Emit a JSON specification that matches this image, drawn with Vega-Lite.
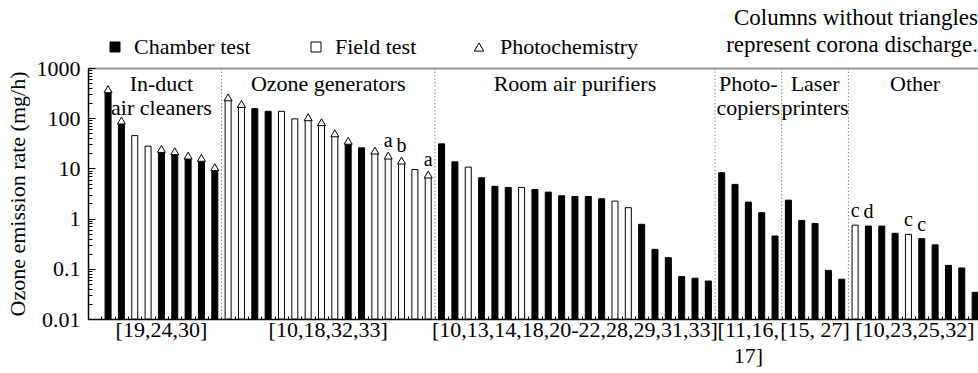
{
  "$schema": "https://vega.github.io/schema/vega-lite/v6.json",
  "width": 890,
  "height": 251,
  "autosize": {"type": "none"},
  "padding": {"left": 88, "top": 68, "right": 0, "bottom": 54},
  "background": "white",
  "config": {
    "font": "Liberation Serif",
    "view": {"stroke": null},
    "text": {"font": "Liberation Serif", "color": "black"},
    "legend": {"labelFont": "Liberation Serif", "labelFontSize": 22, "labelColor": "black", "padding": 0}
  },
  "title": {
    "text": ["Columns without triangles", "represent corona discharge."],
    "anchor": "end",
    "font": "Liberation Serif",
    "fontSize": 23,
    "fontWeight": "normal",
    "color": "black",
    "offset": -21,
    "lineHeight": 27
  },
  "datasets": {
    "bars": [
      {"n": 1, "group": "induct", "rate": 340, "test": "Chamber test", "mechanism": "Photochemistry"},
      {"n": 2, "group": "induct", "rate": 81, "test": "Chamber test", "mechanism": "Photochemistry"},
      {"n": 3, "group": "induct", "rate": 45, "test": "Field test", "mechanism": "Corona discharge"},
      {"n": 4, "group": "induct", "rate": 27.7, "test": "Field test", "mechanism": "Corona discharge"},
      {"n": 5, "group": "induct", "rate": 22, "test": "Chamber test", "mechanism": "Photochemistry"},
      {"n": 6, "group": "induct", "rate": 19.8, "test": "Chamber test", "mechanism": "Photochemistry"},
      {"n": 7, "group": "induct", "rate": 16.2, "test": "Chamber test", "mechanism": "Photochemistry"},
      {"n": 8, "group": "induct", "rate": 14.6, "test": "Chamber test", "mechanism": "Photochemistry"},
      {"n": 9, "group": "induct", "rate": 9.5, "test": "Chamber test", "mechanism": "Photochemistry"},
      {"n": 10, "group": "ozone", "rate": 234, "test": "Field test", "mechanism": "Photochemistry"},
      {"n": 11, "group": "ozone", "rate": 173, "test": "Field test", "mechanism": "Photochemistry"},
      {"n": 12, "group": "ozone", "rate": 155, "test": "Chamber test", "mechanism": "Corona discharge"},
      {"n": 13, "group": "ozone", "rate": 137, "test": "Chamber test", "mechanism": "Corona discharge"},
      {"n": 14, "group": "ozone", "rate": 137, "test": "Field test", "mechanism": "Corona discharge"},
      {"n": 15, "group": "ozone", "rate": 97, "test": "Field test", "mechanism": "Corona discharge"},
      {"n": 16, "group": "ozone", "rate": 94, "test": "Field test", "mechanism": "Photochemistry"},
      {"n": 17, "group": "ozone", "rate": 75, "test": "Field test", "mechanism": "Photochemistry"},
      {"n": 18, "group": "ozone", "rate": 45, "test": "Field test", "mechanism": "Photochemistry"},
      {"n": 19, "group": "ozone", "rate": 32, "test": "Chamber test", "mechanism": "Photochemistry"},
      {"n": 20, "group": "ozone", "rate": 25.7, "test": "Chamber test", "mechanism": "Corona discharge"},
      {"n": 21, "group": "ozone", "rate": 20.4, "test": "Field test", "mechanism": "Photochemistry"},
      {"n": 22, "group": "ozone", "rate": 16.2, "test": "Field test", "mechanism": "Photochemistry", "note": "a"},
      {"n": 23, "group": "ozone", "rate": 12.9, "test": "Field test", "mechanism": "Photochemistry", "note": "b"},
      {"n": 24, "group": "ozone", "rate": 9.5, "test": "Field test", "mechanism": "Corona discharge"},
      {"n": 25, "group": "ozone", "rate": 6.8, "test": "Field test", "mechanism": "Photochemistry", "note": "a"},
      {"n": 26, "group": "room", "rate": 30.8, "test": "Chamber test", "mechanism": "Corona discharge"},
      {"n": 27, "group": "room", "rate": 13.5, "test": "Chamber test", "mechanism": "Corona discharge"},
      {"n": 28, "group": "room", "rate": 10.6, "test": "Field test", "mechanism": "Corona discharge"},
      {"n": 29, "group": "room", "rate": 6.5, "test": "Chamber test", "mechanism": "Corona discharge"},
      {"n": 30, "group": "room", "rate": 4.4, "test": "Chamber test", "mechanism": "Corona discharge"},
      {"n": 31, "group": "room", "rate": 4.17, "test": "Chamber test", "mechanism": "Corona discharge"},
      {"n": 32, "group": "room", "rate": 4.17, "test": "Field test", "mechanism": "Corona discharge"},
      {"n": 33, "group": "room", "rate": 3.8, "test": "Chamber test", "mechanism": "Corona discharge"},
      {"n": 34, "group": "room", "rate": 3.37, "test": "Chamber test", "mechanism": "Corona discharge"},
      {"n": 35, "group": "room", "rate": 2.85, "test": "Chamber test", "mechanism": "Corona discharge"},
      {"n": 36, "group": "room", "rate": 2.76, "test": "Chamber test", "mechanism": "Corona discharge"},
      {"n": 37, "group": "room", "rate": 2.76, "test": "Chamber test", "mechanism": "Corona discharge"},
      {"n": 38, "group": "room", "rate": 2.49, "test": "Chamber test", "mechanism": "Corona discharge"},
      {"n": 39, "group": "room", "rate": 2.23, "test": "Field test", "mechanism": "Corona discharge"},
      {"n": 40, "group": "room", "rate": 1.65, "test": "Field test", "mechanism": "Corona discharge"},
      {"n": 41, "group": "room", "rate": 0.77, "test": "Chamber test", "mechanism": "Corona discharge"},
      {"n": 42, "group": "room", "rate": 0.244, "test": "Chamber test", "mechanism": "Corona discharge"},
      {"n": 43, "group": "room", "rate": 0.167, "test": "Chamber test", "mechanism": "Corona discharge"},
      {"n": 44, "group": "room", "rate": 0.07, "test": "Chamber test", "mechanism": "Corona discharge"},
      {"n": 45, "group": "room", "rate": 0.065, "test": "Chamber test", "mechanism": "Corona discharge"},
      {"n": 46, "group": "room", "rate": 0.057, "test": "Chamber test", "mechanism": "Corona discharge"},
      {"n": 47, "group": "photo", "rate": 8.2, "test": "Chamber test", "mechanism": "Corona discharge"},
      {"n": 48, "group": "photo", "rate": 4.8, "test": "Chamber test", "mechanism": "Corona discharge"},
      {"n": 49, "group": "photo", "rate": 2.13, "test": "Chamber test", "mechanism": "Corona discharge"},
      {"n": 50, "group": "photo", "rate": 1.31, "test": "Chamber test", "mechanism": "Corona discharge"},
      {"n": 51, "group": "photo", "rate": 0.45, "test": "Chamber test", "mechanism": "Corona discharge"},
      {"n": 52, "group": "laser", "rate": 2.33, "test": "Chamber test", "mechanism": "Corona discharge"},
      {"n": 53, "group": "laser", "rate": 0.92, "test": "Chamber test", "mechanism": "Corona discharge"},
      {"n": 54, "group": "laser", "rate": 0.8, "test": "Chamber test", "mechanism": "Corona discharge"},
      {"n": 55, "group": "laser", "rate": 0.093, "test": "Chamber test", "mechanism": "Corona discharge"},
      {"n": 56, "group": "laser", "rate": 0.062, "test": "Chamber test", "mechanism": "Corona discharge"},
      {"n": 57, "group": "other", "rate": 0.74, "test": "Field test", "mechanism": "Corona discharge", "note": "c"},
      {"n": 58, "group": "other", "rate": 0.71, "test": "Chamber test", "mechanism": "Corona discharge", "note": "d"},
      {"n": 59, "group": "other", "rate": 0.71, "test": "Chamber test", "mechanism": "Corona discharge"},
      {"n": 60, "group": "other", "rate": 0.51, "test": "Chamber test", "mechanism": "Corona discharge"},
      {"n": 61, "group": "other", "rate": 0.485, "test": "Field test", "mechanism": "Corona discharge", "note": "c"},
      {"n": 62, "group": "other", "rate": 0.4, "test": "Chamber test", "mechanism": "Corona discharge", "note": "c"},
      {"n": 63, "group": "other", "rate": 0.3, "test": "Chamber test", "mechanism": "Corona discharge"},
      {"n": 64, "group": "other", "rate": 0.117, "test": "Chamber test", "mechanism": "Corona discharge"},
      {"n": 65, "group": "other", "rate": 0.104, "test": "Chamber test", "mechanism": "Corona discharge"},
      {"n": 66, "group": "other", "rate": 0.034, "test": "Chamber test", "mechanism": "Corona discharge"}
    ],
    "groups": [
      {"group": "induct", "title": "In-duct\nair cleaners", "refs": "[19,24,30]"},
      {"group": "ozone", "title": "Ozone generators", "refs": "[10,18,32,33]"},
      {"group": "room", "title": "Room air purifiers", "refs": "[10,13,14,18,20-22,28,29,31,33]"},
      {"group": "photo", "title": "Photo-\ncopiers", "refs": "[11,16,\n17]"},
      {"group": "laser", "title": "Laser\nprinters", "refs": "[15, 27]"},
      {"group": "other", "title": "Other", "refs": "[10,23,25,32]"}
    ],
    "dividers": [
      {"boundary": 9.5}, {"boundary": 25.5}, {"boundary": 46.5}, {"boundary": 51.5}, {"boundary": 56.5}
    ]
  },
  "resolve": {"axis": {"x": "independent", "y": "independent"}},
  "layer": [
    {
      "data": {"name": "dividers"},
      "mark": {"type": "rule", "color": "#8c8c8c", "strokeDash": [1.5, 2], "strokeWidth": 1},
      "encoding": {
        "x": {"field": "boundary", "type": "quantitative", "scale": {"domain": [-0.13, 65.84], "nice": false, "zero": false}, "axis": null}
      }
    },
    {
      "data": {"name": "bars"},
      "mark": {"type": "bar", "width": 6, "stroke": "black", "strokeWidth": 1, "clip": true, "orient": "vertical"},
      "encoding": {
        "x": {
          "field": "n", "type": "quantitative",
          "scale": {"domain": [-0.13, 65.84], "nice": false, "zero": false},
          "axis": {
            "orient": "bottom", "title": null, "labels": false, "grid": false,
            "values": [0.5,1.5,2.5,3.5,4.5,5.5,6.5,7.5,8.5,9.5,10.5,11.5,12.5,13.5,14.5,15.5,16.5,17.5,18.5,19.5,20.5,21.5,22.5,23.5,24.5,25.5,26.5,27.5,28.5,29.5,30.5,31.5,32.5,33.5,34.5,35.5,36.5,37.5,38.5,39.5,40.5,41.5,42.5,43.5,44.5,45.5,46.5,47.5,48.5,49.5,50.5,51.5,52.5,53.5,54.5,55.5,56.5,57.5,58.5,59.5,60.5,61.5,62.5,63.5,64.5,65.5],
            "tickSize": -3, "tickColor": "black", "tickWidth": 1,
            "domainColor": "black", "domainWidth": 1.5
          }
        },
        "y": {
          "field": "rate", "type": "quantitative",
          "scale": {"type": "log", "domain": [0.01, 1000], "nice": false},
          "axis": {
            "orient": "left", "values": [0.01, 0.1, 1, 10, 100, 1000], "format": "~g", "grid": false,
            "tickSize": -7, "tickColor": "black", "tickWidth": 1,
            "domainColor": "black", "domainWidth": 1.5,
            "labelFont": "Liberation Serif", "labelFontSize": 22, "labelColor": "black", "labelPadding": 15,
            "title": "Ozone emission rate (mg/h)", "titleFont": "Liberation Serif", "titleFontSize": 22,
            "titleFontWeight": "normal", "titleColor": "black", "titlePadding": 7
          }
        },
        "y2": {"datum": 0.01},
        "fill": {
          "field": "test", "type": "nominal",
          "scale": {"domain": ["Chamber test", "Field test"], "range": ["black", "white"]},
          "legend": {
            "title": null, "orient": "none", "direction": "horizontal", "legendX": 16, "legendY": -32,
            "symbolType": "square", "symbolSize": 100, "symbolStrokeColor": "black", "symbolStrokeWidth": 1,
            "labelOffset": 8, "columnPadding": 54, "labelFontSize": 22, "labelLimit": 300,
            "encode": {"symbols": {"update": {"stroke": {"value": "black"}, "strokeWidth": {"value": 1}}}}
          }
        }
      }
    },
    {
      "data": {"name": "bars"},
      "transform": [{"filter": "datum.mechanism === 'Photochemistry'"}],
      "mark": {"type": "point", "shape": "triangle-up", "filled": true, "fill": "white", "strokeWidth": 1, "size": 64, "yOffset": -2.3, "opacity": 1},
      "encoding": {
        "x": {
          "field": "n", "type": "quantitative",
          "scale": {"domain": [-0.13, 65.84], "nice": false, "zero": false},
          "axis": {"orient": "top", "title": null, "labels": false, "ticks": false, "grid": false, "domainColor": "#999999", "domainWidth": 2}
        },
        "y": {
          "field": "rate", "type": "quantitative",
          "scale": {"type": "log", "domain": [0.01, 1000], "nice": false},
          "axis": {
            "orient": "left", "title": null, "labels": false, "domain": false, "grid": false,
            "values": [0.02,0.03,0.04,0.05,0.06,0.07,0.08,0.09,0.2,0.3,0.4,0.5,0.6,0.7,0.8,0.9,2,3,4,5,6,7,8,9,20,30,40,50,60,70,80,90,200,300,400,500,600,700,800,900],
            "tickSize": -4, "tickColor": "black", "tickWidth": 1
          }
        },
        "stroke": {
          "field": "mechanism", "type": "nominal",
          "scale": {"domain": ["Photochemistry"], "range": ["black"]},
          "legend": {
            "title": null, "orient": "none", "legendX": 380, "legendY": -32,
            "symbolType": "triangle-up", "symbolSize": 90, "symbolFillColor": "white", "symbolStrokeColor": "black", "symbolStrokeWidth": 1,
            "labelOffset": 10, "labelFontSize": 22, "labelLimit": 300,
            "encode": {"symbols": {"update": {"shape": {"value": "triangle-up"}, "stroke": {"value": "black"}, "fill": {"value": "white"}, "strokeWidth": {"value": 1}, "opacity": {"value": 1}, "size": {"value": 90}}}}
          }
        }
      }
    },
    {
      "data": {"name": "bars"},
      "transform": [{"filter": "isValid(datum.note) && datum.mechanism === 'Photochemistry'"}],
      "mark": {"type": "text", "baseline": "alphabetic", "align": "center", "dy": -11, "fontSize": 20},
      "encoding": {
        "x": {"field": "n", "type": "quantitative", "scale": {"domain": [-0.13, 65.84], "nice": false, "zero": false}, "axis": null},
        "y": {"field": "rate", "type": "quantitative", "scale": {"type": "log", "domain": [0.01, 1000], "nice": false}, "axis": null},
        "text": {"field": "note"}
      }
    },
    {
      "data": {"name": "bars"},
      "transform": [{"filter": "isValid(datum.note) && datum.mechanism !== 'Photochemistry'"}],
      "mark": {"type": "text", "baseline": "alphabetic", "align": "center", "dy": -8, "fontSize": 20},
      "encoding": {
        "x": {"field": "n", "type": "quantitative", "scale": {"domain": [-0.13, 65.84], "nice": false, "zero": false}, "axis": null},
        "y": {"field": "rate", "type": "quantitative", "scale": {"type": "log", "domain": [0.01, 1000], "nice": false}, "axis": null},
        "text": {"field": "note"}
      }
    },
    {
      "data": {"name": "bars"},
      "transform": [
        {"aggregate": [{"op": "mean", "field": "n", "as": "center"}], "groupby": ["group"]},
        {"lookup": "group", "from": {"data": {"name": "groups"}, "key": "group", "fields": ["title", "refs"]}}
      ],
      "mark": {"type": "text", "baseline": "alphabetic", "align": "center", "dy": 23, "fontSize": 22, "lineBreak": "\n", "lineHeight": 24},
      "encoding": {
        "x": {"field": "center", "type": "quantitative", "scale": {"domain": [-0.13, 65.84], "nice": false, "zero": false}, "axis": null},
        "y": {"datum": 1000, "type": "quantitative", "scale": {"type": "log", "domain": [0.01, 1000], "nice": false}, "axis": null},
        "text": {"field": "title"}
      }
    },
    {
      "data": {"name": "bars"},
      "transform": [
        {"aggregate": [{"op": "mean", "field": "n", "as": "center"}], "groupby": ["group"]},
        {"lookup": "group", "from": {"data": {"name": "groups"}, "key": "group", "fields": ["title", "refs"]}}
      ],
      "mark": {"type": "text", "baseline": "alphabetic", "align": "center", "dy": 18, "fontSize": 22, "lineBreak": "\n", "lineHeight": 26},
      "encoding": {
        "x": {"field": "center", "type": "quantitative", "scale": {"domain": [-0.13, 65.84], "nice": false, "zero": false}, "axis": null},
        "y": {"datum": 0.01, "type": "quantitative", "scale": {"type": "log", "domain": [0.01, 1000], "nice": false}, "axis": null},
        "text": {"field": "refs"}
      }
    }
  ]
}
